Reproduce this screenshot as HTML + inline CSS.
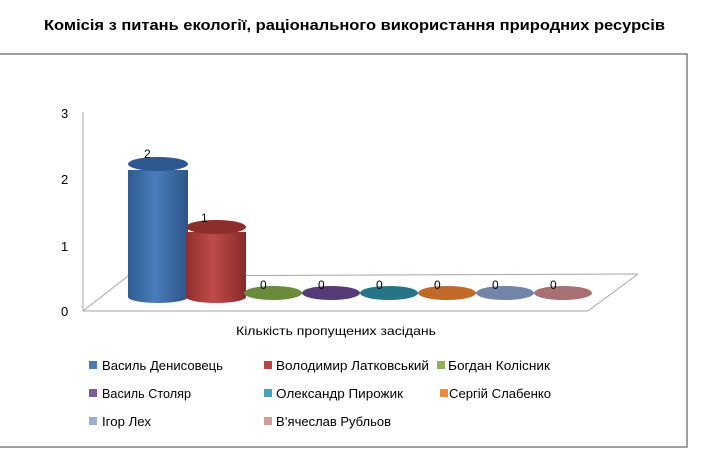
<!DOCTYPE html><html><head><meta charset="utf-8"><style>
body{margin:0;background:#fff;width:714px;height:462px;overflow:hidden;font-family:"Liberation Sans","DejaVu Sans",sans-serif}
</style></head><body>
<svg width="714" height="462" viewBox="0 0 714 462" xmlns="http://www.w3.org/2000/svg" font-family="Liberation Sans, DejaVu Sans, sans-serif">
<defs>
<linearGradient id="gb" x1="0" x2="1"><stop offset="0" stop-color="#2f5c91"/><stop offset=".45" stop-color="#4a7dbc"/><stop offset="1" stop-color="#2c5488"/></linearGradient>
<linearGradient id="gr" x1="0" x2="1"><stop offset="0" stop-color="#8f2f2d"/><stop offset=".45" stop-color="#bf4b48"/><stop offset="1" stop-color="#862b29"/></linearGradient>
</defs>
<text x="44" y="30" textLength="621" lengthAdjust="spacingAndGlyphs" font-size="15" font-weight="bold" fill="#000">Комісія з питань екології, раціонального використання природних ресурсів</text>
<rect x="-5" y="54" width="692" height="393" fill="none" stroke="#808080" stroke-width="1.5"/>
<g stroke="#a6a6a6" stroke-width="1" fill="none">
<line x1="83" y1="112" x2="83" y2="311"/>
<line x1="83" y1="311" x2="588" y2="311"/>
<line x1="83" y1="311" x2="128" y2="276"/>
<line x1="128" y1="276" x2="638" y2="274"/>
<line x1="588" y1="311" x2="638" y2="274"/>
</g>
<g font-size="13" fill="#000">
<text x="61" y="118">3</text><text x="61" y="184">2</text><text x="61" y="251">1</text><text x="61" y="316">0</text>
</g>
<path d="M128 170 L128 297 A30 6 0 0 0 188 297 L188 170 Z" fill="url(#gb)"/>
<ellipse cx="158" cy="164" rx="30" ry="7" fill="#2d5890"/>
<path d="M186 232 L186 297 A30 6 0 0 0 246 297 L246 232 Z" fill="url(#gr)"/>
<ellipse cx="216" cy="227" rx="30" ry="7" fill="#8e2e2c"/>
<ellipse cx="273" cy="293" rx="29" ry="7" fill="#6b8a3a"/>
<ellipse cx="331" cy="293" rx="29" ry="7" fill="#553b78"/>
<ellipse cx="389" cy="293" rx="29" ry="7" fill="#267488"/>
<ellipse cx="447" cy="293" rx="29" ry="7" fill="#c06a2a"/>
<ellipse cx="505" cy="293" rx="29" ry="7" fill="#7085a8"/>
<ellipse cx="563" cy="293" rx="29" ry="7" fill="#a87072"/>
<g font-size="12" fill="#000">
<text x="144" y="158">2</text><text x="201" y="222">1</text>
<text x="260" y="289">0</text><text x="318" y="289">0</text><text x="376" y="289">0</text><text x="434" y="289">0</text><text x="492" y="289">0</text><text x="550" y="289">0</text>
<text x="236" y="335" textLength="200" lengthAdjust="spacingAndGlyphs">Кількість пропущених засідань</text>
</g>
<g font-size="13" fill="#000" lengthAdjust="spacingAndGlyphs">
<rect x="89" y="361" width="8" height="8" fill="#4a7ab5"/><text x="102" y="370" textLength="121" lengthAdjust="spacingAndGlyphs">Василь Денисовець</text>
<rect x="264" y="361" width="8" height="8" fill="#b24a47"/><text x="276" y="370" textLength="153" lengthAdjust="spacingAndGlyphs">Володимир  Латковський</text>
<rect x="437" y="361" width="8" height="8" fill="#93b158"/><text x="448" y="370" textLength="102" lengthAdjust="spacingAndGlyphs">Богдан Колісник</text>
<rect x="89" y="389" width="8" height="8" fill="#7a5a9a"/><text x="102" y="398" textLength="89" lengthAdjust="spacingAndGlyphs">Василь Столяр</text>
<rect x="264" y="389" width="8" height="8" fill="#4aa0b8"/><text x="276" y="398" textLength="127" lengthAdjust="spacingAndGlyphs">Олександр Пирожик</text>
<rect x="440" y="389" width="8" height="8" fill="#e88d44"/><text x="449" y="398" textLength="102" lengthAdjust="spacingAndGlyphs">Сергій Слабенко</text>
<rect x="89" y="417" width="8" height="8" fill="#98aed2"/><text x="102" y="426" textLength="49" lengthAdjust="spacingAndGlyphs">Ігор Лех</text>
<rect x="264" y="417" width="8" height="8" fill="#d29a9a"/><text x="276" y="426" textLength="115" lengthAdjust="spacingAndGlyphs">В’ячеслав Рубльов</text>
</g>
</svg>
</body></html>
